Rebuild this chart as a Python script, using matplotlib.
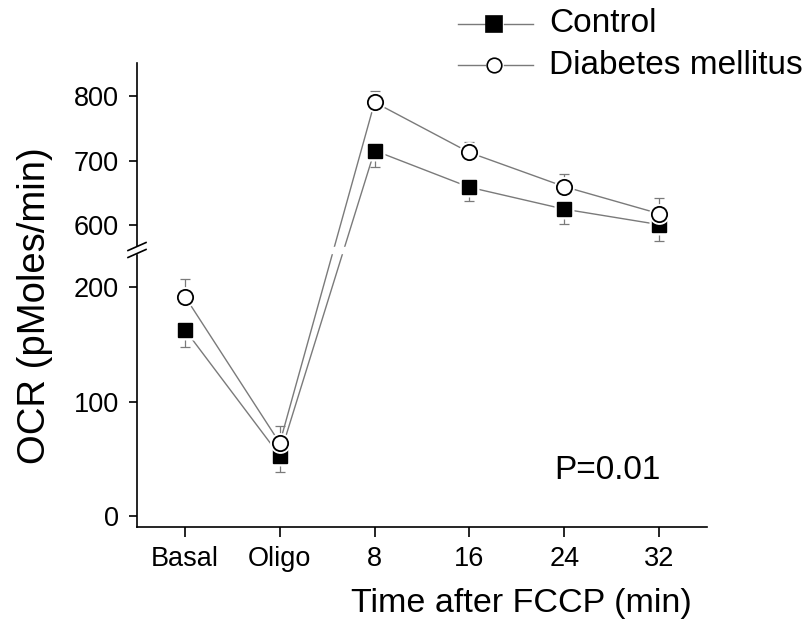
import numpy as np
import matplotlib
matplotlib.use('Agg')
import matplotlib.pyplot as plt
from matplotlib.lines import Line2D

plt.rcParams['font.family'] = ['Liberation Sans', 'DejaVu Sans']

# datos
etiquetas = ['Basal', 'Oligo', '8', '16', '24', '32']
control = [163, 53, 716, 659, 625, 601]
control_se = [15, 14, 25, 22, 23, 25]
diabetes = [192, 64, 791, 713, 660, 618]
diabetes_se = [15, 15, 18, 17, 19, 25]
y_ticks = [0, 100, 200, 600, 700, 800]

# escala partida: 0-232 abajo, 562-852 arriba
datos_corte = [-9.3, 232, 562, 852]
px_corte = [0, 276.3, 277.3, 464]

def adelante(y):
    return np.interp(y, datos_corte, px_corte)

def atras(p):
    return np.interp(p, px_corte, datos_corte)

fig = plt.figure(figsize=(8.12, 6.27), dpi=100)
ax = fig.add_axes([137 / 812, 100 / 627, 570 / 812, 464 / 627])
ax.set_yscale('function', functions=(adelante, atras))

x = np.arange(len(etiquetas))
gris = '#7a7a7a'

# lineas que unen los puntos
ax.plot(x, control, color=gris, lw=1, zorder=1)
ax.plot(x, diabetes, color=gris, lw=1, zorder=1)

# barras de error de un solo lado
ax.errorbar(x, control, yerr=[control_se, np.zeros(len(x))], fmt='none',
            ecolor=gris, elinewidth=0.9, capsize=3.6, capthick=0.9, zorder=1.5)
ax.errorbar(x, diabetes, yerr=[np.zeros(len(x)), diabetes_se], fmt='none',
            ecolor=gris, elinewidth=0.9, capsize=3.6, capthick=0.9, zorder=1.5)

# halo blanco para separar las lineas de los marcadores
ax.plot(x, control, 's', ms=14.5, mfc='white', mec='none', zorder=3)
ax.plot(x, control, 's', ms=10.5, mfc='black', mec='black', zorder=3.1)
ax.plot(x, diabetes, 'o', ms=15, mfc='white', mec='none', zorder=3.2)
ax.plot(x, diabetes, 'o', ms=11, mfc='white', mec='black', mew=1.3, zorder=3.3)

ax.set_xlim(-0.506, 5.506)
ax.set_ylim(-9.3, 852)
ax.set_xticks(x)
ax.set_xticklabels(etiquetas)
ax.set_yticks(y_ticks)
ax.set_yticklabels([str(v) for v in y_ticks])
ax.minorticks_off()

for lado in ['top', 'right']:
    ax.spines[lado].set_visible(False)
for lado in ['left', 'bottom']:
    ax.spines[lado].set_linewidth(1.2)
ax.tick_params(axis='both', direction='out', length=6, width=1.2, labelsize=19.5, pad=7)
ax.tick_params(axis='x', length=7)

# marca de corte
yb = 277 / 464
ax.fill_between([-0.01, 1.0], yb - 0.0075, yb + 0.0075, color='white',
                transform=ax.transAxes, clip_on=False, zorder=2.7)
for d in (-0.0075, 0.0075):
    ax.plot([-0.0158, 0.0158], [yb + d - 0.0086, yb + d + 0.0086], color='black',
            lw=1.2, transform=ax.transAxes, clip_on=False, zorder=2.8)

ax.set_xlabel('Time after FCCP (min)', fontsize=24.5)
ax.xaxis.set_label_coords(0.674, -0.132)
ax.set_ylabel('OCR (pMoles/min)', fontsize=27.5)
ax.yaxis.set_label_coords(-0.148, 0.478)

ax.text(0.826, 0.122, 'P=0.01', transform=ax.transAxes, fontsize=24,
        ha='center', va='center')

# leyenda dibujada a mano
filas = [(24, 's', 'black', 11, 'Control'), (65, 'o', 'white', 10.5, 'Diabetes mellitus')]
for yy, mk, relleno, tam, nombre in filas:
    fy = 1 - yy / 627
    fig.add_artist(Line2D([458 / 812, 485 / 812], [fy, fy], color=gris, lw=1))
    fig.add_artist(Line2D([504 / 812, 533 / 812], [fy, fy], color=gris, lw=1))
    fig.add_artist(Line2D([494.5 / 812], [fy], marker=mk, ms=tam, mfc=relleno,
                          mec='black', mew=1.2, ls='none'))
    fig.text(549 / 812, fy, nombre, fontsize=24, ha='left', va='center')

fig.savefig('out.png', dpi=100)
